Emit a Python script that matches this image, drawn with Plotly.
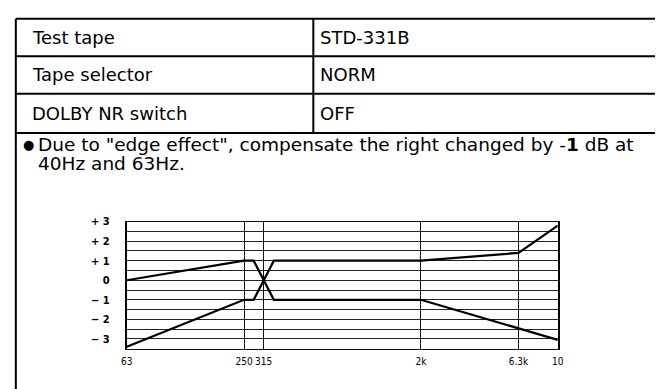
import plotly.graph_objects as go

W, H = 661, 389

# Table contents
row_labels = ["Test tape", "Tape selector", "DOLBY NR switch"]
row_values = ["STD-331B", "NORM", "OFF"]
note_bullet = "\u25cf"
note_line1 = "Due to \"edge effect\", compensate the right changed by -<b>1</b> dB at"
note_line2 = "40Hz and 63Hz."

# Tolerance limits (dB) against frequency (Hz)
freq_a = [63, 250, 280, 355, 2000, 6300, 10000]
level_a = [0, 1, 1, -1, -1, -2.45, -3.05]
freq_b = [63, 250, 280, 355, 2000, 6300, 10000]
level_b = [-3.4, -1, -1, 1, 1, 1.4, 2.8]

x_ticks = [63, 250, 315, 2000, 6300, 10000]
x_labels = ["63", "250", "315", "2k", "6.3k", "10"]
y_ticks = [-3.5, -3, -2.5, -2, -1.5, -1, -0.5, 0, 0.5, 1, 1.5, 2, 2.5, 3]
y_labels = ["", "\u2212 3", "", "\u2212 2", "", "\u2212 1", "", "0", "", "+ 1", "", "+ 2", "", "+ 3"]


def px(x):
    return x / W


def py(y):
    return 1 - y / H


fig = go.Figure()
for f, lv in ((freq_a, level_a), (freq_b, level_b)):
    fig.add_trace(go.Scatter(x=f, y=lv, mode="lines",
                             line=dict(color="black", width=2.2),
                             showlegend=False, hoverinfo="skip"))

x_tick_font = dict(family="Liberation Sans Narrow, DejaVu Sans Condensed, Arial",
                   size=10, color="black")
y_tick_font = dict(family="Liberation Sans Narrow, DejaVu Sans Condensed, Arial",
                   size=11, color="black", weight="bold")

fig.update_xaxes(type="log", range=[1.7993, 4.0], domain=[px(123), px(562)],
                 tickvals=x_ticks, ticktext=x_labels, tickfont=x_tick_font,
                 tickangle=0,
                 showgrid=True, gridcolor="#111", gridwidth=1,
                 showline=True, linecolor="#111", linewidth=1, mirror=True,
                 ticks="", ticklabelstandoff=3, zeroline=False)
fig.update_yaxes(range=[-3.5, 3.0], domain=[py(348), py(219)],
                 tickvals=y_ticks, ticktext=y_labels, tickfont=y_tick_font,
                 showgrid=True, gridcolor="#222", gridwidth=1,
                 showline=True, linecolor="black", linewidth=2, mirror=True,
                 ticks="", ticklabelstandoff=13, zeroline=False)

# Table frame
shapes = []
for yy in (13, 51, 89, 129):
    shapes.append(dict(type="line", xref="paper", yref="paper",
                       x0=px(10), x1=1, y0=py(yy), y1=py(yy),
                       line=dict(color="black", width=2)))
shapes.append(dict(type="line", xref="paper", yref="paper",
                   x0=px(10), x1=px(10), y0=py(13), y1=0,
                   line=dict(color="black", width=2)))
shapes.append(dict(type="line", xref="paper", yref="paper",
                   x0=px(313), x1=px(313), y0=py(13), y1=py(129),
                   line=dict(color="black", width=2)))

text_font = dict(family="DejaVu Sans, Arial", size=18, color="black")
note_font = dict(family="DejaVu Sans, Arial", size=18.5, color="black")
annotations = []
row_centers = [32, 70, 109]
for lab, val, yc in zip(row_labels, row_values, row_centers):
    annotations.append(dict(text=lab, x=px(24), y=py(yc), xref="paper", yref="paper",
                            xanchor="left", yanchor="middle", showarrow=False, font=text_font))
    annotations.append(dict(text=val, x=px(318), y=py(yc), xref="paper", yref="paper",
                            xanchor="left", yanchor="middle", showarrow=False, font=text_font))
annotations.append(dict(text=note_bullet, x=px(23), y=py(141), xref="paper", yref="paper",
                        xanchor="center", yanchor="middle", showarrow=False,
                        font=dict(family="DejaVu Sans, Arial", size=13, color="black")))
annotations.append(dict(text=note_line1, x=px(31), y=py(141), xref="paper", yref="paper",
                        xanchor="left", yanchor="middle", showarrow=False, font=note_font))
annotations.append(dict(text=note_line2, x=px(31), y=py(160), xref="paper", yref="paper",
                        xanchor="left", yanchor="middle", showarrow=False, font=note_font))

fig.update_layout(width=W, height=H, margin=dict(l=0, r=0, t=0, b=0),
                  paper_bgcolor="white", plot_bgcolor="white",
                  shapes=shapes, annotations=annotations)

fig.write_html("out.html")
